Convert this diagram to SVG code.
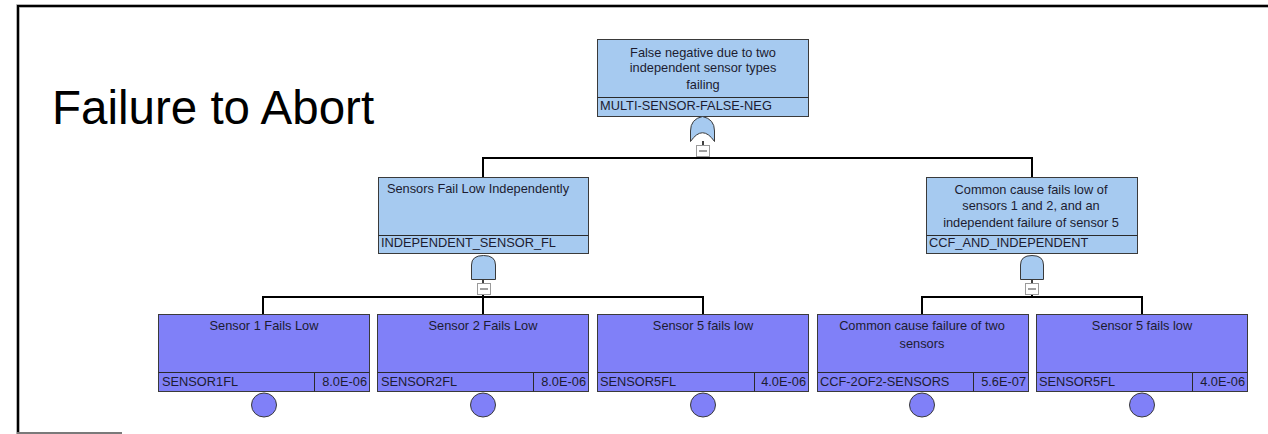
<svg xmlns="http://www.w3.org/2000/svg" width="1268" height="434" viewBox="0 0 1268 434">
  <style>
    .gate-box { fill: #a6caf0; stroke: #3a3a3a; stroke-width: 1; }
    .basic-box { fill: #8080f8; stroke: #3a3a3a; stroke-width: 1; }
    .sep { stroke: #2a2a2a; stroke-width: 1; }
    .txt { font-family: "Liberation Sans", Arial, sans-serif; font-size: 12.8px; fill: #1c1c30; }
    .mid { text-anchor: middle; }
    .end { text-anchor: end; }
    .gate { fill: #a6caf0; stroke: #3a3a3a; stroke-width: 1; }
    .event { fill: #8080f8; stroke: #3a3a3a; stroke-width: 1; }
    .mini { fill: #ffffff; stroke: #9a9a9a; stroke-width: 1; }
    .mini-dash { stroke: #404040; stroke-width: 1; }
    .wire { stroke: #000000; stroke-width: 2; fill: none; }
    .stub { stroke: #000000; stroke-width: 1.5; fill: none; }
  </style>

  <rect width="1268" height="434" fill="#ffffff"/>

  <!-- page frame -->
  <g id="frame">
    <path d="M18 434 V6 H1268" fill="none" stroke="#9a9a9a" stroke-width="3.5"/>
    <path d="M18 434 V6 H1268" fill="none" stroke="#000000" stroke-width="2"/>
    <line x1="17" y1="433" x2="122" y2="433" stroke="#7a7a7a" stroke-width="2"/>
  </g>

  <text id="title" x="52" y="124" font-family="Liberation Sans, Arial, sans-serif" font-size="47.5" fill="#000000">Failure to Abort</text>

  <!-- connectors -->
  <g id="connectors">
    <line class="stub" x1="703" y1="141" x2="703" y2="146"/>
    <line class="wire" x1="703" y1="156" x2="703" y2="158"/>
    <path class="wire" d="M483 177 V158 H1032 V177"/>

    <line class="stub" x1="483" y1="280" x2="483" y2="283"/>
    <line class="wire" x1="483" y1="294" x2="483" y2="297"/>
    <path class="wire" d="M263 314 V297 H703 V314"/>

    <line class="stub" x1="1032" y1="280" x2="1032" y2="283"/>
    <line class="wire" x1="1032" y1="294" x2="1032" y2="297"/>
    <path class="wire" d="M922 314 V297 H1142 V314"/>
    <line class="wire" x1="483" y1="297" x2="483" y2="314"/>
  </g>

  <!-- top event with OR gate -->
  <g id="multi-sensor-false-neg">
    <rect class="gate-box" x="597.5" y="39.5" width="211" height="77"/>
    <line class="sep" x1="597.5" y1="97.5" x2="808.5" y2="97.5"/>
    <text class="txt mid" x="703" y="57">False negative due to two</text>
    <text class="txt mid" x="703" y="72">independent sensor types</text>
    <text class="txt mid" x="703" y="89">failing</text>
    <text class="txt" x="600" y="110">MULTI-SENSOR-FALSE-NEG</text>
    <path class="gate" d="M690.5 141.5 L690.5 131 Q690.5 119 702.5 116.5 Q714.5 119 714.5 131 L714.5 141.5 Q702.5 124 690.5 141.5 Z"/>
    <rect class="mini" x="696.5" y="145.5" width="13" height="11"/>
    <line class="mini-dash" x1="699" y1="151" x2="707" y2="151"/>
  </g>

  <!-- AND gate: independent failures -->
  <g id="independent-sensor-fl">
    <rect class="gate-box" x="378.5" y="177.5" width="210" height="76"/>
    <line class="sep" x1="378.5" y1="235.5" x2="588.5" y2="235.5"/>
    <text class="txt mid" x="478" y="193">Sensors Fail Low Independently</text>
    <text class="txt" x="381" y="247">INDEPENDENT_SENSOR_FL</text>
    <path class="gate" d="M471.5 279.5 V265 Q471.5 255.5 483.5 255.5 Q495.5 255.5 495.5 265 V279.5 Z"/>
    <rect class="mini" x="477.5" y="283.5" width="13" height="11"/>
    <line class="mini-dash" x1="480" y1="289" x2="488" y2="289"/>
  </g>

  <!-- AND gate: common cause plus independent -->
  <g id="ccf-and-independent">
    <rect class="gate-box" x="926.5" y="177.5" width="211" height="76"/>
    <line class="sep" x1="926.5" y1="235.5" x2="1137.5" y2="235.5"/>
    <text class="txt mid" x="1031" y="194">Common cause fails low of</text>
    <text class="txt mid" x="1031" y="210">sensors 1 and 2, and an</text>
    <text class="txt mid" x="1031" y="227">independent failure of sensor 5</text>
    <text class="txt" x="929" y="247">CCF_AND_INDEPENDENT</text>
    <path class="gate" d="M1020.5 279.5 V265 Q1020.5 255.5 1032 255.5 Q1043.5 255.5 1043.5 265 V279.5 Z"/>
    <rect class="mini" x="1025.5" y="283.5" width="13" height="11"/>
    <line class="mini-dash" x1="1028" y1="289" x2="1036" y2="289"/>
  </g>

  <!-- basic events -->
  <g id="sensor1fl">
    <rect class="basic-box" x="158.5" y="314.5" width="211" height="77"/>
    <line class="sep" x1="158.5" y1="372.5" x2="369.5" y2="372.5"/>
    <line class="sep" x1="314.5" y1="372.5" x2="314.5" y2="391.5"/>
    <text class="txt mid" x="264" y="330">Sensor 1 Fails Low</text>
    <text class="txt" x="162" y="386">SENSOR1FL</text>
    <text class="txt end" x="367" y="386">8.0E-06</text>
    <ellipse class="event" cx="264" cy="405" rx="12.5" ry="12"/>
  </g>

  <g id="sensor2fl">
    <rect class="basic-box" x="377.5" y="314.5" width="211" height="77"/>
    <line class="sep" x1="377.5" y1="372.5" x2="588.5" y2="372.5"/>
    <line class="sep" x1="533.5" y1="372.5" x2="533.5" y2="391.5"/>
    <text class="txt mid" x="483" y="330">Sensor 2 Fails Low</text>
    <text class="txt" x="381" y="386">SENSOR2FL</text>
    <text class="txt end" x="586" y="386">8.0E-06</text>
    <ellipse class="event" cx="483" cy="405" rx="12.5" ry="12"/>
  </g>

  <g id="sensor5fl-a">
    <rect class="basic-box" x="597.5" y="314.5" width="211" height="77"/>
    <line class="sep" x1="597.5" y1="372.5" x2="808.5" y2="372.5"/>
    <line class="sep" x1="754.5" y1="372.5" x2="754.5" y2="391.5"/>
    <text class="txt mid" x="703" y="330">Sensor 5 fails low</text>
    <text class="txt" x="600" y="386">SENSOR5FL</text>
    <text class="txt end" x="806" y="386">4.0E-06</text>
    <ellipse class="event" cx="703" cy="405" rx="12.5" ry="12"/>
  </g>

  <g id="ccf-2of2-sensors">
    <rect class="basic-box" x="817.5" y="314.5" width="211" height="77"/>
    <line class="sep" x1="817.5" y1="372.5" x2="1028.5" y2="372.5"/>
    <line class="sep" x1="973.5" y1="372.5" x2="973.5" y2="391.5"/>
    <text class="txt mid" x="922" y="330">Common cause failure of two</text>
    <text class="txt mid" x="922" y="348">sensors</text>
    <text class="txt" x="820" y="386">CCF-2OF2-SENSORS</text>
    <text class="txt end" x="1026" y="386">5.6E-07</text>
    <ellipse class="event" cx="922" cy="405" rx="12.5" ry="12"/>
  </g>

  <g id="sensor5fl-b">
    <rect class="basic-box" x="1036.5" y="314.5" width="211" height="77"/>
    <line class="sep" x1="1036.5" y1="372.5" x2="1247.5" y2="372.5"/>
    <line class="sep" x1="1192.5" y1="372.5" x2="1192.5" y2="391.5"/>
    <text class="txt mid" x="1142" y="330">Sensor 5 fails low</text>
    <text class="txt" x="1039" y="386">SENSOR5FL</text>
    <text class="txt end" x="1245" y="386">4.0E-06</text>
    <ellipse class="event" cx="1142" cy="405" rx="12.5" ry="12"/>
  </g>
</svg>
